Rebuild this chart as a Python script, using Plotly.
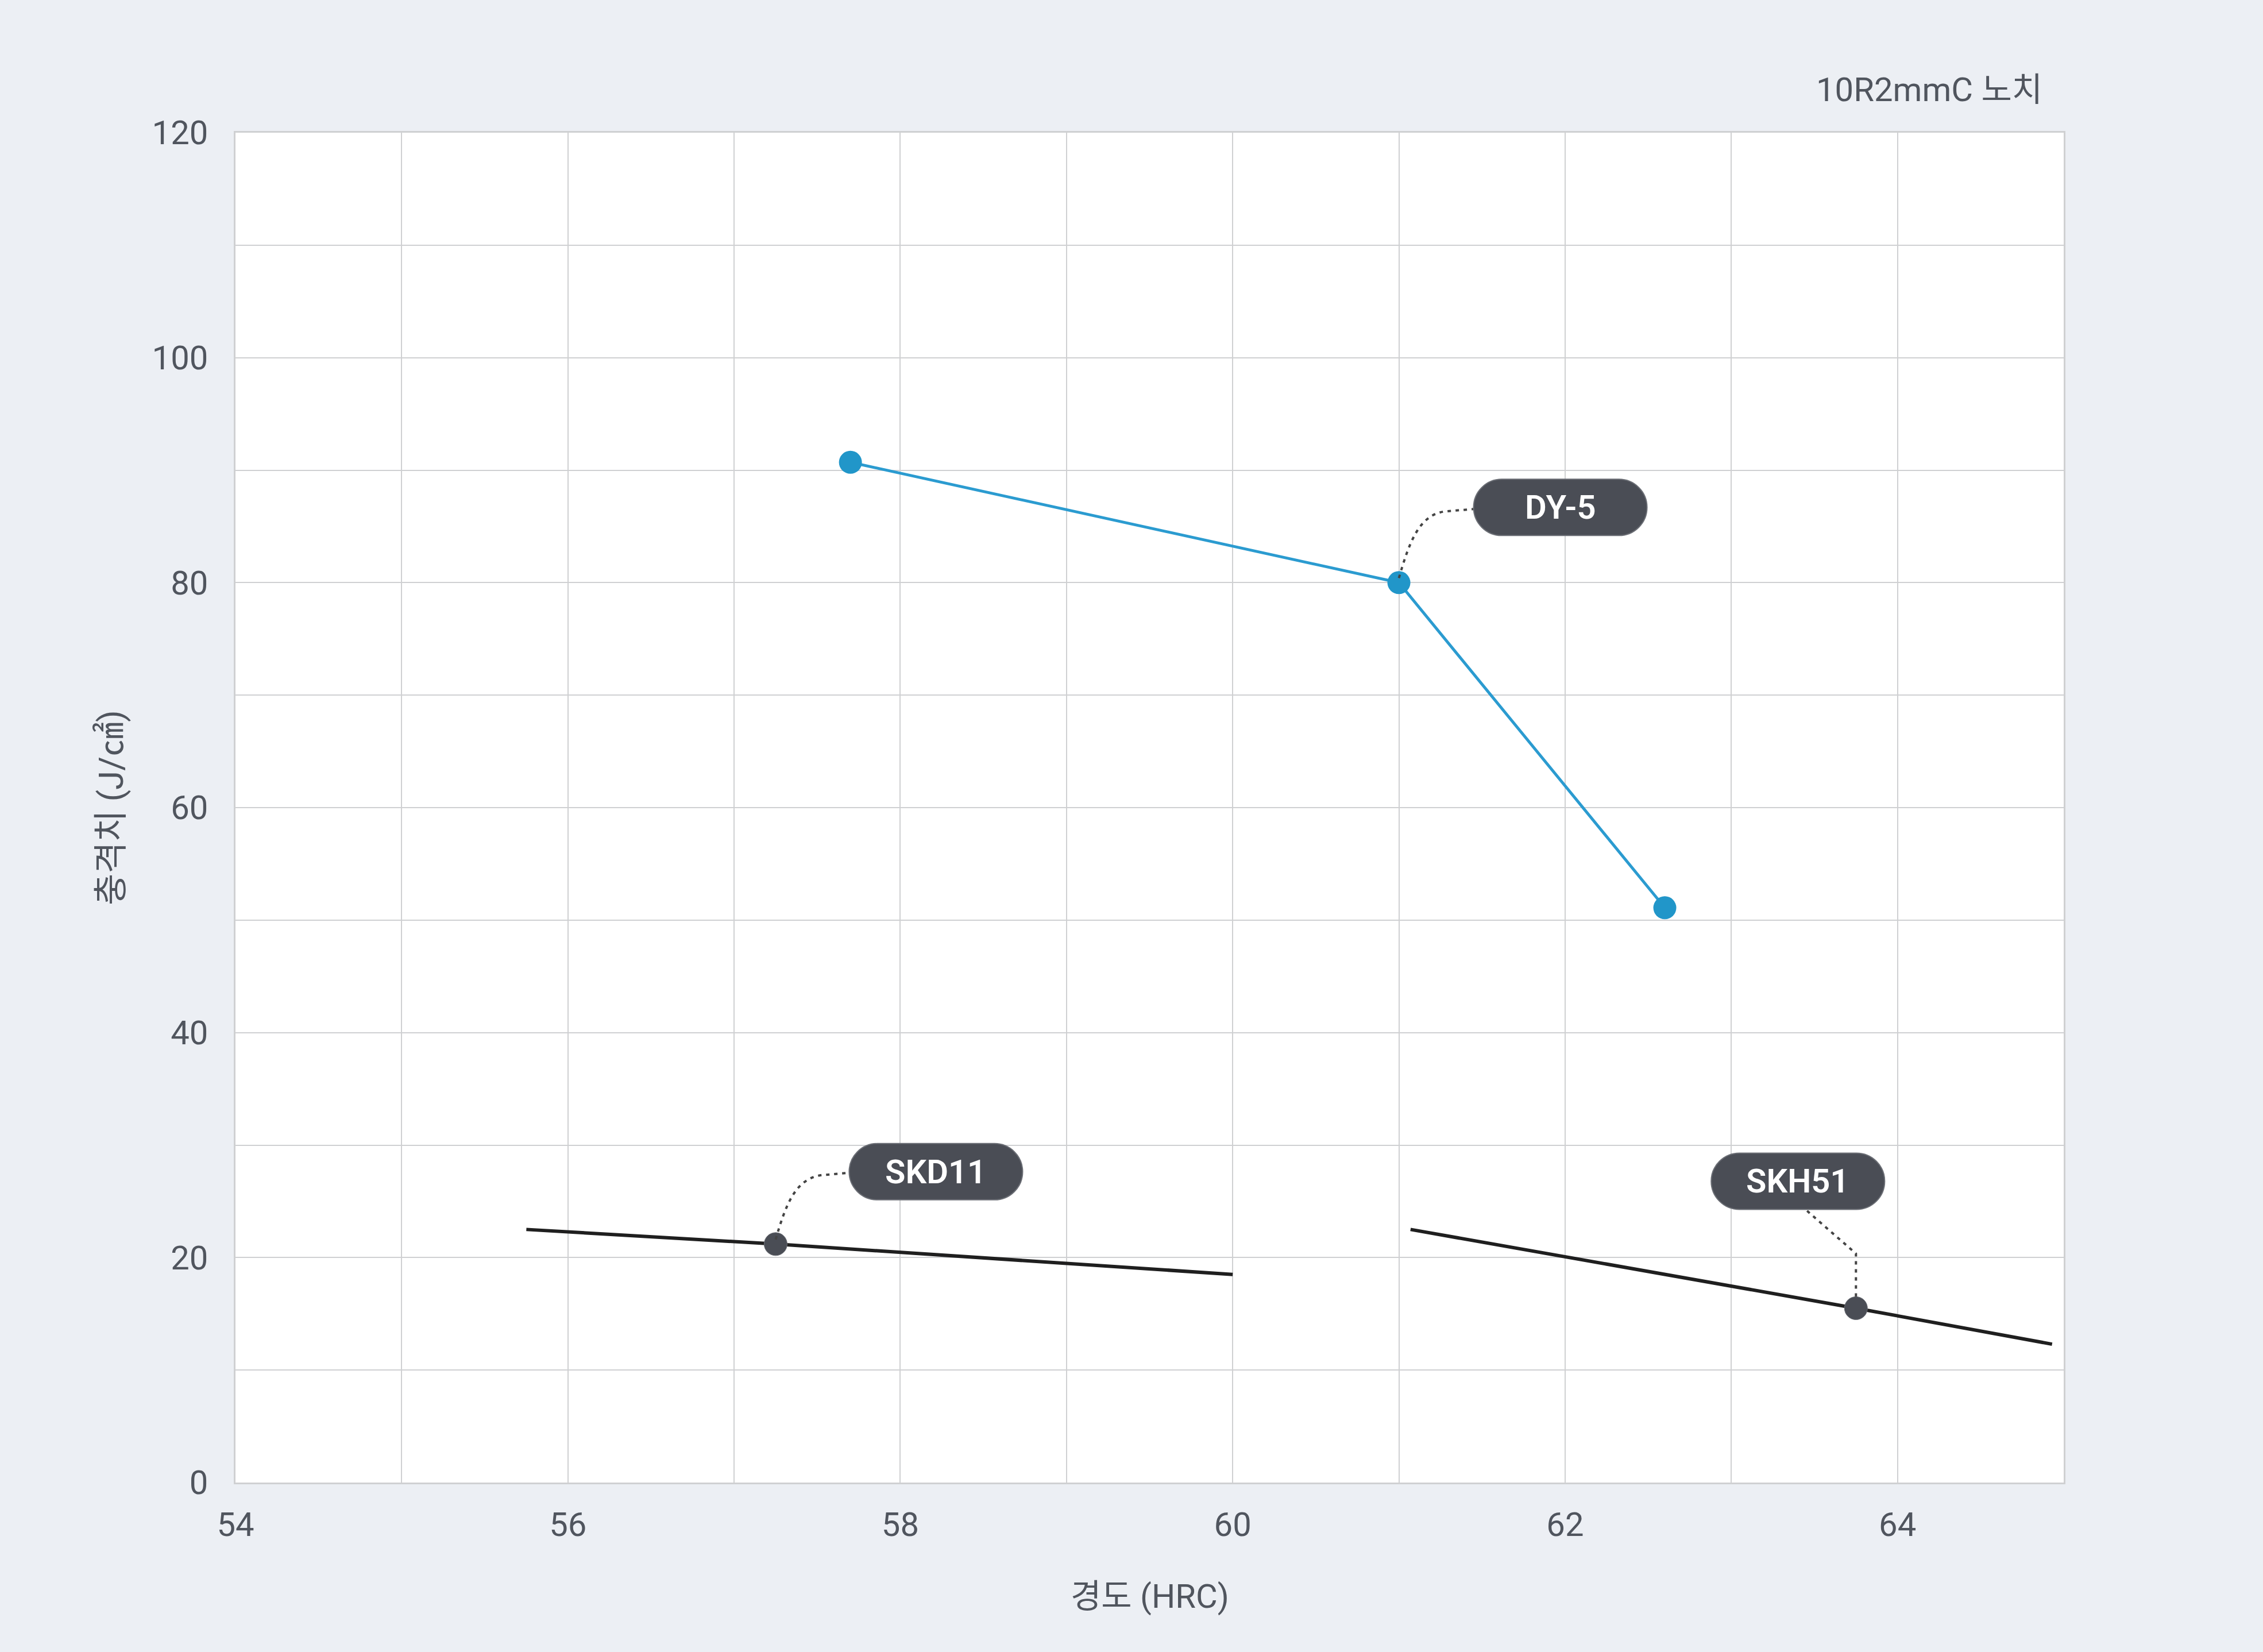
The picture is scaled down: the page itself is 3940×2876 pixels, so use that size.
import plotly.graph_objects as go

# ---- data ----
dy5_hrc = [57.7, 61.0, 62.6]
dy5_impact = [90.7, 80.0, 51.1]

skd11_hrc = [55.75, 57.25, 60.0]
skd11_impact = [22.5, 21.2, 18.5]

skh51_hrc = [61.07, 63.75, 64.93]
skh51_impact = [22.5, 15.5, 12.3]

x_ticks = [54, 56, 58, 60, 62, 64]
y_ticks = [0, 20, 40, 60, 80, 100, 120]

series_names = ["DY-5", "SKD11", "SKH51"]
labeled_index = [1, 1, 1]            # point each label points to
# label pill centre offset from the point (px, screen: right/down positive)
label_offsets = [(281, -131), (279, -126), (-101, -221)]

# ---- style ----
PAGE_BG = "#eceff4"
GRID = "#cfd0d2"
TEXT = "#50555e"
PILL = "#4a4d55"
BLUE = "#2b9bd0"
BLUE_MK = "#2196c9"
DARK = "#1f1f1f"
GRAY_MK = "#4a4d55"
FONT = "Roboto, 'Noto Sans CJK KR', sans-serif"

W, H = 3940, 2876
L, R, T, B = 410, 347, 231, 295

fig = go.Figure()

fig.add_trace(go.Scatter(
    x=dy5_hrc, y=dy5_impact, mode="lines+markers", name="DY-5",
    line=dict(color=BLUE, width=5),
    marker=dict(color=BLUE_MK, size=40, line=dict(width=0)),
    hoverinfo="skip", showlegend=False))

for xs, ys, idx in [(skd11_hrc, skd11_impact, labeled_index[1]),
                    (skh51_hrc, skh51_impact, labeled_index[2])]:
    fig.add_trace(go.Scatter(
        x=xs, y=ys, mode="lines", line=dict(color=DARK, width=6),
        hoverinfo="skip", showlegend=False))
    fig.add_trace(go.Scatter(
        x=[xs[idx]], y=[ys[idx]], mode="markers",
        marker=dict(color=GRAY_MK, size=40, line=dict(width=1, color="#6b6e75")),
        hoverinfo="skip", showlegend=False))

# ---- pill labels with dotted leaders ----
def pill_path(cx, cy, w=302, h=98):
    r = h / 2
    a = w / 2 - r
    k = 0.5523 * r
    return (f"M {cx-a},{cy+r} L {cx+a},{cy+r} "
            f"C {cx+a+k},{cy+r} {cx+a+r},{cy+k} {cx+a+r},{cy} "
            f"C {cx+a+r},{cy-k} {cx+a+k},{cy-r} {cx+a},{cy-r} "
            f"L {cx-a},{cy-r} "
            f"C {cx-a-k},{cy-r} {cx-a-r},{cy-k} {cx-a-r},{cy} "
            f"C {cx-a-r},{cy+k} {cx-a-k},{cy+r} {cx-a},{cy+r} Z")

# leader paths in pixel offsets (y up)
leaders = [
    "M 0,8 C 18,70 35,118 80,124 L 130,128",
    "M 0,8 C 18,70 35,114 80,120 L 127,124",
    "M 0,20 L 0,95 L -88,172",
]

series_xy = [(dy5_hrc, dy5_impact), (skd11_hrc, skd11_impact), (skh51_hrc, skh51_impact)]
for name, (xs, ys), idx, (ox, oy), lp in zip(series_names, series_xy, labeled_index,
                                              label_offsets, leaders):
    ax_, ay_ = xs[idx], ys[idx]
    fig.add_shape(type="path", xref="x", yref="y", xsizemode="pixel", ysizemode="pixel",
                  xanchor=ax_, yanchor=ay_, path=lp,
                  line=dict(color="#444444", width=4, dash="6px,8px"), layer="above")
    fig.add_shape(type="path", xref="x", yref="y", xsizemode="pixel", ysizemode="pixel",
                  xanchor=ax_, yanchor=ay_, path=pill_path(ox, -oy),
                  fillcolor=PILL, line=dict(color="#6b6e75", width=2), layer="above")
    fig.add_annotation(x=ax_, y=ay_, xref="x", yref="y", xshift=ox, yshift=-oy,
                       text=name, showarrow=False, xanchor="center", yanchor="middle",
                       font=dict(family=FONT, size=58, color="white", weight=600))

# ---- titles ----
fig.add_annotation(xref="paper", yref="paper", x=1, y=1, xshift=-35, yshift=75,
                   xanchor="right", yanchor="middle", showarrow=False,
                   text="10R2mmC 노치", font=dict(family=FONT, size=58, color=TEXT))
fig.add_annotation(xref="paper", yref="paper", x=0.5, y=0, yshift=-198,
                   xanchor="center", yanchor="middle", showarrow=False,
                   text="경도 (HRC)", font=dict(family=FONT, size=58, color=TEXT))
fig.add_annotation(xref="paper", yref="paper", x=0, y=0.5, xshift=-217,
                   xanchor="center", yanchor="middle", showarrow=False, textangle=-90,
                   text="충격치 (J/㎠)", font=dict(family=FONT, size=60, color=TEXT))

fig.update_layout(
    width=W, height=H,
    margin=dict(l=L, r=R, t=T, b=B, autoexpand=False),
    paper_bgcolor=PAGE_BG, plot_bgcolor="white",
    font=dict(family=FONT, color=TEXT),
)
fig.update_xaxes(range=[54, 65], tickvals=x_ticks, ticktext=[str(v) for v in x_ticks],
                 showgrid=True, gridcolor=GRID, gridwidth=2,
                 minor=dict(dtick=1, tick0=54, showgrid=True, gridcolor=GRID, gridwidth=2),
                 showline=True, linecolor=GRID, linewidth=3, mirror=True,
                 zeroline=False, ticks="", ticklabelstandoff=20,
                 tickfont=dict(family=FONT, size=58, color=TEXT))
fig.update_yaxes(range=[0, 120], tickvals=y_ticks, ticktext=[str(v) for v in y_ticks],
                 showgrid=True, gridcolor=GRID, gridwidth=2,
                 minor=dict(dtick=10, tick0=0, showgrid=True, gridcolor=GRID, gridwidth=2),
                 showline=True, linecolor=GRID, linewidth=3, mirror=True,
                 zeroline=False, ticks="", ticklabelstandoff=33,
                 tickfont=dict(family=FONT, size=58, color=TEXT))

fig.write_html("out.html")
